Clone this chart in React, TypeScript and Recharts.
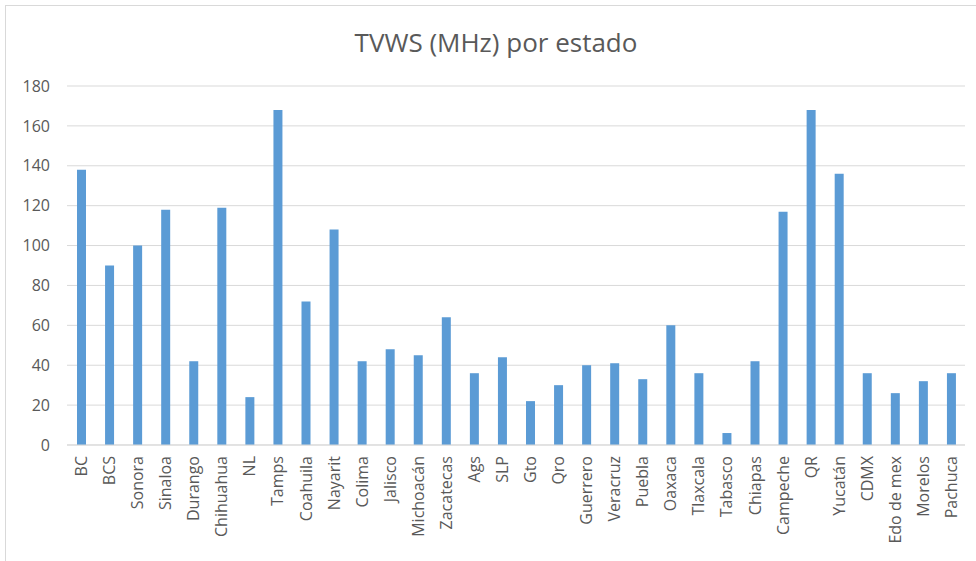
import { BarChart, Bar, XAxis, YAxis, CartesianGrid } from "recharts"

const estados = [
  "BC", "BCS", "Sonora", "Sinaloa", "Durango", "Chihuahua", "NL", "Tamps",
  "Coahuila", "Nayarit", "Colima", "Jalisco", "Michoacán", "Zacatecas", "Ags", "SLP",
  "Gto", "Qro", "Guerrero", "Veracruz", "Puebla", "Oaxaca", "Tlaxcala", "Tabasco",
  "Chiapas", "Campeche", "QR", "Yucatán", "CDMX", "Edo de mex", "Morelos", "Pachuca",
]

const mhz = [
  138, 90, 100, 118, 42, 119, 24, 168,
  72, 108, 42, 48, 45, 64, 36, 44,
  22, 30, 40, 41, 33, 60, 36, 6,
  42, 117, 168, 136, 36, 26, 32, 36,
]

const yTicks = [0, 20, 40, 60, 80, 100, 120, 140, 160, 180]

const data = estados.map((estado, i) => ({ estado, mhz: mhz[i] }))

const font = "'Open Sans', 'Segoe UI', sans-serif"
const grey = "#595959"

function StateTick({ x, y, payload }: any) {
  return (
    <text
      x={x}
      y={y}
      transform={`rotate(-90 ${x} ${y})`}
      textAnchor="end"
      dominantBaseline="central"
      fill={grey}
      fontSize={16}
      fontFamily={font}
    >
      {payload.value}
    </text>
  )
}

export default function App() {
  return (
    <div style={{ position: "absolute", left: 0, top: 0, width: 976, height: 561, overflow: "hidden", background: "#fff" }}>
      <div
        style={{
          position: "absolute",
          left: 5,
          top: 5,
          width: 990,
          height: 580,
          border: "1px solid #d9d9d9",
        }}
      />
      <div
        style={{
          position: "absolute",
          top: 24,
          left: 0,
          width: 992,
          textAlign: "center",
          fontFamily: font,
          fontSize: 26,
          color: grey,
        }}
      >
        TVWS (MHz) por estado
      </div>
      <div style={{ position: "absolute", left: 0, top: 0 }}>
        <BarChart width={976} height={561} data={data} margin={{ top: 86, right: 11, bottom: 0, left: 0 }}>
          <CartesianGrid vertical={false} stroke="#d9d9d9" />
          <XAxis
            dataKey="estado"
            interval={0}
            height={116}
            tickLine={false}
            axisLine={{ stroke: "#d9d9d9" }}
            tick={<StateTick />}
            tickMargin={5}
          />
          <YAxis
            domain={[0, 180]}
            ticks={yTicks}
            width={67}
            axisLine={false}
            tickLine={false}
            tickMargin={11}
            tick={{ fill: grey, fontSize: 16, fontFamily: font }}
          />
          <Bar dataKey="mhz" fill="#5b9bd5" barSize={9} isAnimationActive={false} />
        </BarChart>
      </div>
    </div>
  )
}
